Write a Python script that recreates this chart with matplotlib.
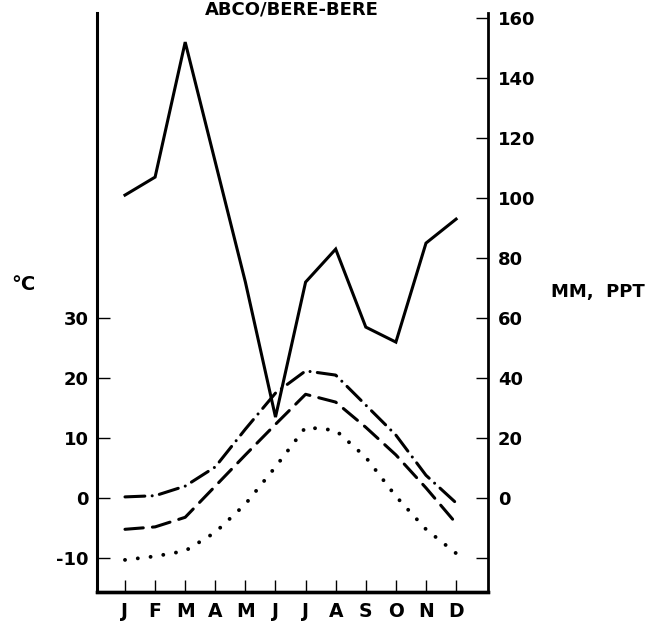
import matplotlib.pyplot as plt

months = ['J', 'F', 'M', 'A', 'M', 'J', 'J', 'A', 'S', 'O', 'N', 'D']
precip_mm = [101, 107, 152, 112, 72, 27, 72, 83, 57, 52, 85, 93]
t_max = [0.2, 0.4, 2.0, 5.2, 11.5, 17.5, 21.2, 20.5, 15.5, 10.5, 3.8, -0.8]
t_mean = [-5.2, -4.8, -3.2, 2.0, 7.2, 12.3, 17.3, 16.0, 11.8, 7.2, 1.7, -4.2]
t_min = [-10.3, -9.7, -8.8, -5.7, -1.0, 5.2, 11.8, 11.3, 6.8, 0.3, -5.2, -9.2]
temp_ticks = [-10, 0, 10, 20, 30]
mm_ticks = [-20, 0, 20, 40, 60, 80, 100, 120, 140, 160]

plt.rcParams['font.family'] = 'DejaVu Sans'
plt.rcParams['font.weight'] = 'bold'

fig = plt.figure(figsize=(6.52, 6.25), dpi=100)
ax = fig.add_axes([97 / 652, 33 / 625, 391 / 652, 579 / 625])
ax2 = ax.twinx()

x = list(range(len(months)))
lw = 2.2

ax.plot(x, t_max, color='black', lw=lw, dashes=(6.5, 2.4, 0.01, 2.4),
        dash_capstyle='round', solid_capstyle='round')
ax.plot(x, t_mean, color='black', lw=lw, dashes=(6, 3), dash_capstyle='round')
ax.plot(x, t_min, color='black', lw=2.8, dashes=(0.01, 3.3), dash_capstyle='round')
ax2.plot(x, precip_mm, color='black', lw=lw, solid_joinstyle='miter')

mm_lo, mm_hi = -31.3, 161.7
ax2.set_ylim(mm_lo, mm_hi)
ax.set_ylim(mm_lo / 2, mm_hi / 2)
ax.set_xlim(-0.93, 12.06)

ax.set_xticks(x, months)
ax.set_yticks(temp_ticks, [str(t) for t in temp_ticks])
ax2.set_yticks(mm_ticks, ['' if m < 0 else str(m) for m in mm_ticks])

for a in (ax, ax2):
    a.spines['top'].set_visible(False)
    a.spines['left'].set_linewidth(2.2)
    a.spines['right'].set_linewidth(2.0)
    a.spines['bottom'].set_linewidth(2.4)
    a.tick_params(direction='in', length=9, width=1.0, labelsize=13)

ax.tick_params(axis='y', pad=6)
ax.tick_params(axis='x', pad=7, labelsize=13.5)
ax2.tick_params(axis='y', pad=7)
ax2.spines['left'].set_visible(False)
ax.spines['right'].set_visible(False)

fig.text(292 / 652, 1 - 10 / 625, 'ABCO/BERE-BERE', ha='center', va='center',
         fontsize=13, fontweight='bold')
fig.text(23 / 652, 1 - 285 / 625, '°C', ha='center', va='center',
         fontsize=14, fontweight='bold')
fig.text(598 / 652, 1 - 292 / 625, 'MM,  PPT', ha='center', va='center',
         fontsize=13, fontweight='bold')

fig.savefig('out.png', dpi=100)
